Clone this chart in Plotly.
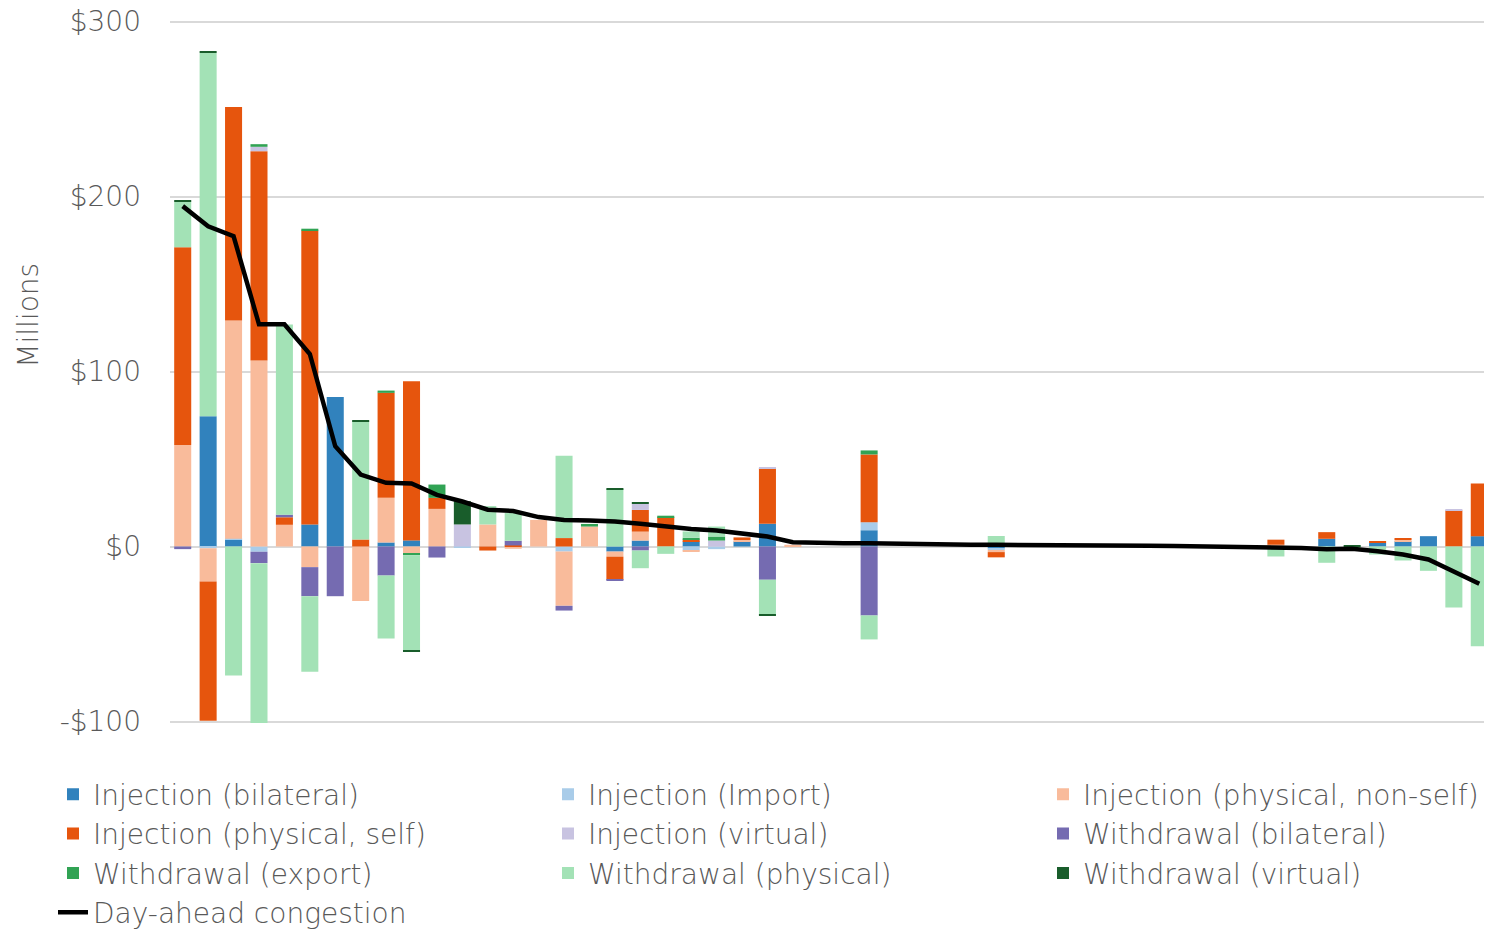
import plotly.graph_objects as go

constraints = [f"Constraint {i+1}" for i in range(52)]

inj_bilateral = [0, 74.5, 4, 0, 0, 12.6, 85.5, 0, 2.3, 3.5, 0, 0, 0, 0, 0, 0, 0, -2.9, 3.4, 0,
                 2.9, 0, 2.9, 13, 0, 0, 0, 9.3, 0, 0, 0, 0, -1, 0, 0, 0, 0, 0, 0, 0,
                 0, 0, 0, 0, 0, 4.4, 0, 2.1, 3, 5.9, 0, 5.9]
inj_import = [0, -1, 0.5, -3, 0, 0, 0, 0, 0, 0, 0, -0.5, 0, 0, 0, -2.9, 0, 0, 0, 0,
              -2.3, -1.5, 0, 0, 0, 0, 0, 4.6, 0, 0, 0, 0, -1, 0, 0, 0, 0, 0, 0, 0,
              0, 0, 0, 0, 0, 0, 0, 0, 0, 0, 0, 0]
inj_phys_nonself = [58, -19, 124.7, 106.3, 12.4, -11.8, 0, -31.2, 25.5, -4, 21.5, 0, 12.6, -1.3, 15.2, -31, 11.4, -2.9, 5.1, 0,
                    -0.8, 0, 0.8, 0, 1, 0, 0, 0, 0, 0, 0, 0, -1.2, 0, 0, 0, 0, 0, 0, 0,
                    0, 0, 0, 1, 0, 0, 0, 0, 1, 0, 0, 0]
inj_phys_self = [113, -79.5, 122, 119.6, 4.3, 168, 0, 4, 60, 91, 6.3, 0, -2.3, 0.6, 0, 4.8, 0, -13.3, 12.4, 16.8,
                 1.1, 0, 1.5, 31.8, 0, 0, 0, 38.7, 0, 0, 0, 0, -3, 0, 0, 0, 0, 0, 0, 0,
                 0, 0, 0, 2.9, 0, 3.8, 0, 1, 0.6, 0, 20.6, 30.1]
inj_virtual = [0, 0, 0, 2.5, 0, 0, 0, 0, 0, 0, 0, 12.6, 0, 0, 0, 0, 0, 0, 3.4, 0,
               0, 3.4, 0, 0.5, 0, 0, 0, 0, 0, 0, 0, 0, 0, 0, 0, 0, 0, 0, 0, 0,
               0, 0, 0, 0, 0, 0, 0, 0, 0, 0, 0.5, 0]
wd_bilateral = [-1.5, 0, 0, -6.5, 1.5, -16.6, -28.4, 0, -16.6, 0, -6.3, 0, 0, 2.7, 0, -2.7, 0, -0.5, -2.3, 0,
                0, 0, 0, -19, 0, 0, 0, -39.4, 0, 0, 0, 0, 0, 0, 0, 0, 0, 0, 0, 0,
                0, 0, 0, 0, 0, 0, 0, 0, 0, 0, 0, 0]
wd_export = [0, 0, 0, 1.5, 0, 1, 0, 0, 1.3, -1, 7.6, 0, 0, 0, 0, 0, 1.5, 0, 0, 0.8,
             1, 2.3, 0, 0, 0, 0, 0, 2.3, 0, 0, 0, 0, 0, 0, 0, 0, 0, 0, 0, 0,
             0, 0, 0, 0, 0, 0, 0, 0, 0, 0, 0, 0]
wd_physical = [26, 207.6, -73.7, -91.4, 108.6, -43.2, 0, 67.6, -36, -54.3, 0, 0, 10.5, 15.8, 0, 47, 0, 32.8, -10.1, -4.2,
               3.6, 5.7, 0, -20, 0, 0, 0, -13.7, 0, 0, 0, 0, 6, 0, 0, 0, 0, 0, 0, 0,
               0, 0, 0, -5.7, 0, -9.3, -0.8, -4.6, -8, -13.9, -34.9, -57]
wd_virtual = [1, 1, 0, 0, 0, 0, 0, 0.6, 0, -0.7, 0, 13.3, 0, 0, 0, 0, 0, 0.5, 0.8, 0,
              0, 0, 0, -0.6, 0, 0, 0, 0, 0, 0, 0, 0, 0, 0, 0, 0, 0, 0, 0, 0,
              0, 0, 0, 0, 0, 0, 0.5, 0, 0, 0, 0, 0]
da_congestion = [194.5, 183, 177.3, 127, 127, 110, 57.3, 41.1, 36.4, 36, 29.5, 25.7, 21, 20.3, 16.8, 15.2, 14.8, 14.3, 13, 11.5,
                 10, 9.2, 7.3, 5.7, 2.5, 2, 1.9, 1.8, 1.5, 1.3, 1.1, 1, 1, 0.8, 0.7, 0.6, 0.5, 0.5, 0.4, 0.3,
                 0.2, 0.1, 0, -0.5, -0.8, -1.5, -1.3, -2.7, -4.6, -7.4, -14.1, -21.3]

series_names = ["Injection (bilateral)", "Injection (Import)", "Injection (physical, non-self)",
                "Injection (physical, self)", "Injection (virtual)", "Withdrawal (bilateral)",
                "Withdrawal (export)", "Withdrawal (physical)", "Withdrawal (virtual)"]
series_values = [inj_bilateral, inj_import, inj_phys_nonself, inj_phys_self, inj_virtual,
                 wd_bilateral, wd_export, wd_physical, wd_virtual]
series_colors = ["#3182bd", "#a9cce9", "#f9bb9b", "#e6550d", "#c8c3e1",
                 "#756bb1", "#31a354", "#a3e2b6", "#195d2b"]
y_ticks = [-100, 0, 100, 200, 300]
y_tick_labels = ["-$100", "$0", "$100", "$200", "$300"]

FONT = "DejaVu Sans"
GREY = "#595959"

fig = go.Figure()
for name, vals, col in zip(series_names, series_values, series_colors):
    fig.add_trace(go.Bar(x=constraints, y=vals, name=name, marker=dict(color=col, line=dict(width=0))))
fig.add_trace(go.Scatter(x=constraints, y=da_congestion, name="Day-ahead congestion", mode="lines",
                         line=dict(color="black", width=4.5)))

# page body has an 8px margin, so the figure is 8px smaller and margins 8px tighter
fig.update_layout(
    width=1484, height=924,
    barmode="relative", bargap=0.33,
    plot_bgcolor="white", paper_bgcolor="white",
    margin=dict(l=162, r=0, t=9.5, b=206.5, autoexpand=False),
    font=dict(family=FONT, color=GREY, size=28, weight=300),
    xaxis=dict(showticklabels=False, showgrid=False, zeroline=False, showline=False, ticks=""),
    yaxis=dict(range=[-102, 302], tickvals=y_ticks, ticktext=y_tick_labels,
               showgrid=True, gridcolor="#d9d9d9", gridwidth=1.5, zeroline=True,
               zerolinecolor="#d9d9d9", zerolinewidth=1.5, showline=False, ticks="",
               ticklabelstandoff=28, ticklabeloverflow="allow",
               tickfont=dict(family=FONT, size=28, color=GREY, weight=300)),
    legend=dict(orientation="h", x=-0.0885, xanchor="left", y=-0.0629, yanchor="top",
                entrywidth=450, entrywidthmode="pixels", traceorder="normal",
                font=dict(family=FONT, size=28, color=GREY, weight=300),
                bgcolor="rgba(0,0,0,0)", tracegroupgap=0, itemwidth=30),
    annotations=[dict(text="Millions", xref="paper", yref="paper", x=-0.107, y=0.5798,
                      textangle=-90, showarrow=False, xanchor="center", yanchor="middle",
                      font=dict(family=FONT, size=28, color=GREY, weight=300))],
)
fig.write_html("out.html")
